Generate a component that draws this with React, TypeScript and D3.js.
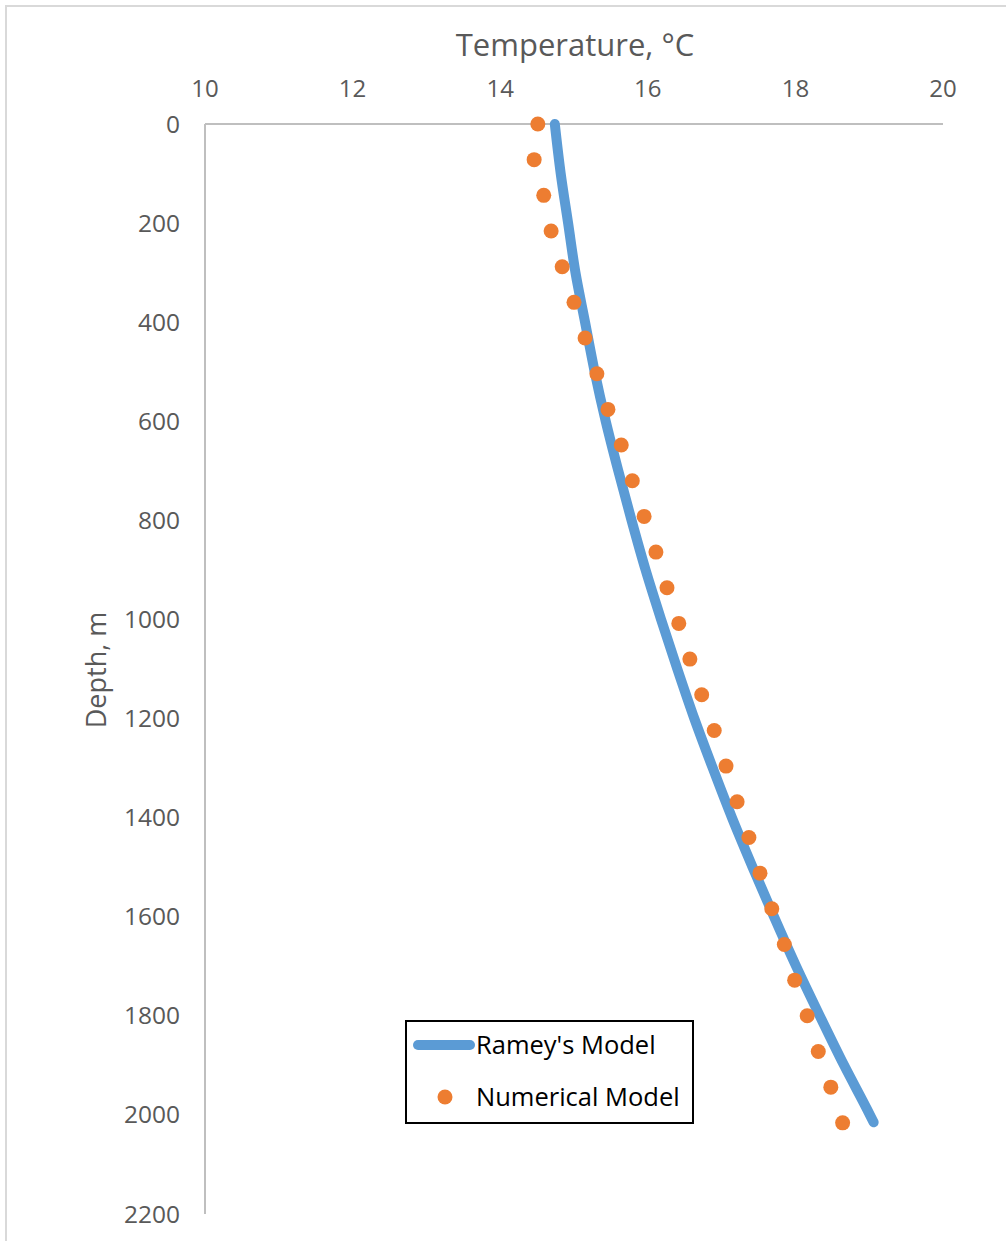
import React from 'react';
import * as d3 from 'd3';

// Ramey's analytical model (line)
const rameyDepth = [0, 100, 200, 300, 400, 500, 600, 700, 800, 900, 1000, 1100, 1200, 1300, 1400, 1500, 1600, 1700, 1800, 1900, 2000, 2015];
const rameyTemp = [14.74, 14.82, 14.92, 15.02, 15.15, 15.28, 15.43, 15.6, 15.78, 15.97, 16.18, 16.4, 16.63, 16.88, 17.14, 17.42, 17.71, 18.01, 18.33, 18.66, 19.01, 19.06];

// numerical model (dots)
const numDepth = [0, 72, 144, 216, 288, 360, 432, 504, 576, 648, 720, 792, 864, 936, 1008, 1080, 1152, 1224, 1296, 1368, 1440, 1512, 1584, 1656, 1728, 1800, 1872, 1944, 2016];
const numTemp = [14.51, 14.46, 14.59, 14.69, 14.84, 15.0, 15.15, 15.31, 15.46, 15.64, 15.79, 15.95, 16.11, 16.26, 16.42, 16.57, 16.73, 16.9, 17.06, 17.21, 17.37, 17.52, 17.68, 17.85, 17.99, 18.16, 18.31, 18.48, 18.64];

const tempTicks = [10, 12, 14, 16, 18, 20];
const depthTicks = [0, 200, 400, 600, 800, 1000, 1200, 1400, 1600, 1800, 2000, 2200];

const W = 1006;
const H = 1241;
const margin = { top: 124, left: 205, right: 63, bottom: 27 };
const font = '"Open Sans", sans-serif';
const blue = '#5b9bd5';
const orange = '#ed7d31';
const axisGrey = '#bfbfbf';
const textGrey = '#595959';

const x = d3.scaleLinear().domain([10, 20]).range([margin.left, W - margin.right]);
const y = d3.scaleLinear().domain([0, 2200]).range([margin.top, H - margin.bottom]);

export default function App() {
  const line = d3
    .line<number>()
    .x((d, i) => x(rameyTemp[i]))
    .y(d => y(d))
    .curve(d3.curveMonotoneY);

  return (
    <svg
      width={W}
      height={H}
      style={{ position: 'absolute', left: 0, top: 0, background: '#fff' }}
      fontFamily={font}
    >
      <rect x={6} y={6} width={W + 20} height={H + 20} fill="#fff" stroke="#d9d9d9" strokeWidth={2} />

      {/* axes */}
      <line x1={x(10)} x2={x(20)} y1={y(0)} y2={y(0)} stroke={axisGrey} strokeWidth={2} />
      <line x1={x(10)} x2={x(10)} y1={y(0)} y2={y(2200)} stroke={axisGrey} strokeWidth={2} />

      {tempTicks.map(t => (
        <text key={t} x={x(t)} y={97} textAnchor="middle" fontSize={24} fill={textGrey}>
          {t}
        </text>
      ))}
      {depthTicks.map(t => (
        <text key={t} x={180} y={y(t)} dy="0.35em" textAnchor="end" fontSize={24.5} fill={textGrey}>
          {t}
        </text>
      ))}

      <text x={575} y={56} textAnchor="middle" fontSize={31} fill={textGrey}>
        Temperature, °C
      </text>
      <text
        transform={`translate(106, ${670}) rotate(-90)`}
        textAnchor="middle"
        fontSize={27}
        fill={textGrey}
      >
        Depth, m
      </text>

      {/* series */}
      <path
        d={line(rameyDepth) || ''}
        fill="none"
        stroke={blue}
        strokeWidth={10}
        strokeLinecap="round"
        strokeLinejoin="round"
      />
      {numDepth.map((d, i) => (
        <circle key={i} cx={x(numTemp[i])} cy={y(d)} r={7.5} fill={orange} />
      ))}

      {/* legend */}
      <rect x={406} y={1021} width={287} height={102} fill="#fff" stroke="#000" strokeWidth={2} />
      <line x1={418} x2={470} y1={1045} y2={1045} stroke={blue} strokeWidth={10} strokeLinecap="round" />
      <text x={476} y={1045} dy="0.35em" fontSize={25.5} fill="#000">
        Ramey's Model
      </text>
      <circle cx={445} cy={1097} r={7.5} fill={orange} />
      <text x={476} y={1097} dy="0.35em" fontSize={25.5} fill="#000">
        Numerical Model
      </text>
    </svg>
  );
}
